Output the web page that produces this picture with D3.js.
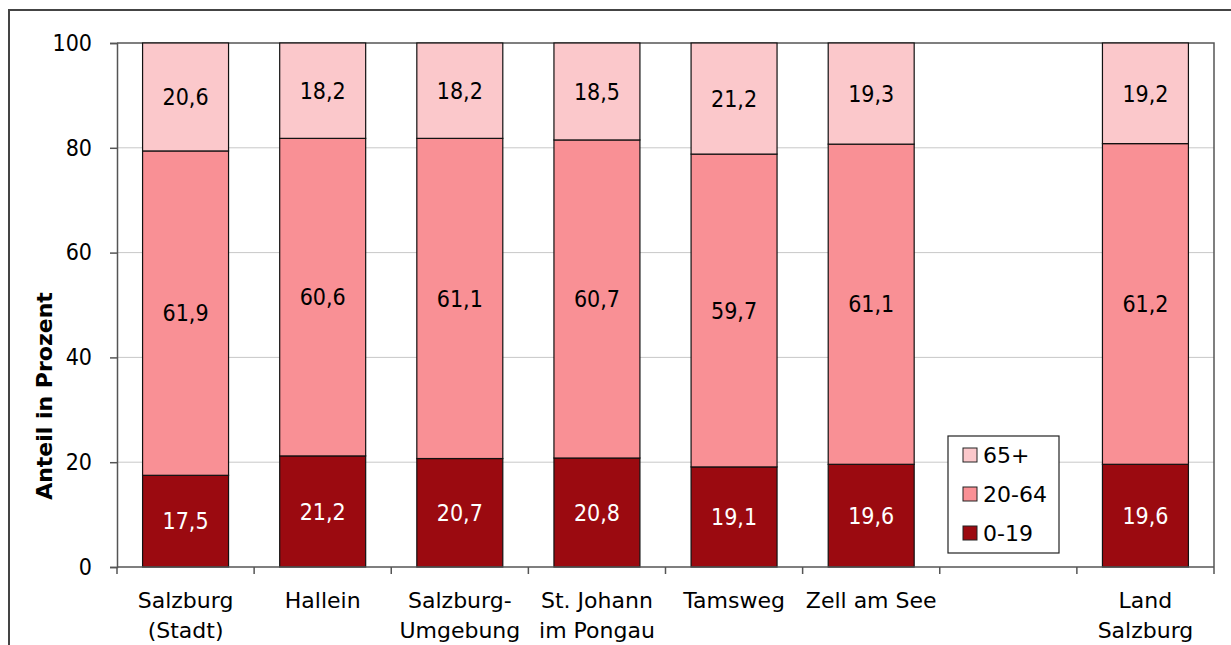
<!DOCTYPE html>
<html>
<head>
<meta charset="utf-8">
<script src="https://cdn.jsdelivr.net/npm/d3@7"></script>
<style>
  body { margin: 0; background: #fff; }
  svg { display: block; font-family: "DejaVu Sans", sans-serif; }
</style>
</head>
<body>
<div id="chart"></div>
<script>
// Altersstruktur nach Bezirken (Anteil in Prozent)
var categories = ['Salzburg\n(Stadt)', 'Hallein', 'Salzburg-\nUmgebung', 'St. Johann\nim Pongau',
                  'Tamsweg', 'Zell am See', '', 'Land\nSalzburg'];
var age0to19  = [17.5, 21.2, 20.7, 20.8, 19.1, 19.6, null, 19.6];
var age20to64 = [61.9, 60.6, 61.1, 60.7, 59.7, 61.1, null, 61.2];
var age65plus = [20.6, 18.2, 18.2, 18.5, 21.2, 19.3, null, 19.2];
var seriesNames = ['0-19', '20-64', '65+'];
var yTicks = [0, 20, 40, 60, 80, 100];

var width = 1231, height = 645;
var margin = {left: 117, top: 43, right: 17, bottom: 78};
var colors = {'0-19': '#9b0a10', '20-64': '#f99095', '65+': '#fbc8cb'};
var textColors = {'0-19': '#fff', '20-64': '#000', '65+': '#000'};
var numFont = '"DejaVu Sans Condensed", "DejaVu Sans", sans-serif';

var rows = categories.map(function (c, i) {
    return {cat: i, '0-19': age0to19[i], '20-64': age20to64[i], '65+': age65plus[i]};
});

var svg = d3.select('#chart').append('svg')
    .attr('width', width)
    .attr('height', height);

// outer frame
svg.append('rect')
    .attr('x', 9).attr('y', 10)
    .attr('width', 1300).attr('height', 700)
    .attr('fill', 'none')
    .attr('stroke', '#444')
    .attr('stroke-width', 2);

var x = d3.scaleBand()
    .domain(d3.range(categories.length))
    .range([margin.left, width - margin.right])
    .paddingInner(0.373)
    .paddingOuter(0.1865);

var y = d3.scaleLinear()
    .domain([0, 100])
    .range([height - margin.bottom, margin.top]);

// gridlines
svg.append('g')
    .selectAll('line')
    .data(yTicks.filter(function (t) { return t > 0 && t < 100; }))
    .enter().append('line')
    .attr('x1', margin.left).attr('x2', width - margin.right)
    .attr('y1', function (d) { return y(d); })
    .attr('y2', function (d) { return y(d); })
    .attr('stroke', '#c8c8c8')
    .attr('stroke-width', 1);

// plot border (top/right)
svg.append('path')
    .attr('d', 'M' + margin.left + ',' + y(100) + 'H' + (width - margin.right) + 'V' + y(0))
    .attr('fill', 'none')
    .attr('stroke', '#555')
    .attr('stroke-width', 1.5);

var stack = d3.stack().keys(seriesNames);
var layers = stack(rows.filter(function (r) { return r['0-19'] != null; }));

var groups = svg.append('g').selectAll('g')
    .data(layers)
    .enter().append('g')
    .attr('fill', function (d) { return colors[d.key]; });

groups.selectAll('rect')
    .data(function (d) { return d; })
    .enter().append('rect')
    .attr('x', function (d) { return x(d.data.cat); })
    .attr('y', function (d) { return y(d[1]); })
    .attr('width', x.bandwidth())
    .attr('height', function (d) { return y(d[0]) - y(d[1]); })
    .attr('stroke', '#111')
    .attr('stroke-width', 1.2);

// value labels
layers.forEach(function (layer) {
    svg.append('g').selectAll('text')
        .data(layer)
        .enter().append('text')
        .attr('x', function (d) { return x(d.data.cat) + x.bandwidth() / 2; })
        .attr('y', function (d) { return (y(d[0]) + y(d[1])) / 2; })
        .attr('dy', '0.36em')
        .attr('text-anchor', 'middle')
        .attr('font-family', numFont)
        .attr('font-size', 23)
        .attr('fill', textColors[layer.key])
        .text(function (d) { return String(d.data[layer.key]).replace('.', ','); });
});

// y axis
var yAxis = svg.append('g')
    .attr('transform', 'translate(' + margin.left + ',0)')
    .call(d3.axisLeft(y).tickValues(yTicks).tickSize(7).tickPadding(18));
yAxis.selectAll('text').attr('font-size', 23).attr('fill', '#000')
    .attr('font-family', numFont);
yAxis.selectAll('line, path').attr('stroke', '#555').attr('stroke-width', 1.5);

// x axis line and boundary ticks
var xAxisG = svg.append('g');
xAxisG.append('line')
    .attr('x1', margin.left).attr('x2', width - margin.right)
    .attr('y1', y(0)).attr('y2', y(0))
    .attr('stroke', '#555').attr('stroke-width', 1.5);
var step = x.step();
xAxisG.selectAll('line.tick')
    .data(d3.range(categories.length + 1))
    .enter().append('line')
    .attr('class', 'tick')
    .attr('x1', function (d) { return margin.left + d * step; })
    .attr('x2', function (d) { return margin.left + d * step; })
    .attr('y1', y(0)).attr('y2', y(0) + 7)
    .attr('stroke', '#555').attr('stroke-width', 1.5);

xAxisG.selectAll('text.cat')
    .data(categories)
    .enter().append('text')
    .attr('class', 'cat')
    .attr('text-anchor', 'middle')
    .attr('font-size', 22)
    .attr('transform', function (d, i) {
        return 'translate(' + (x(i) + x.bandwidth() / 2) + ',' + 608 + ')';
    })
    .each(function (d) {
        var t = d3.select(this);
        d.split('\n').forEach(function (line, k) {
            t.append('tspan').attr('x', 0).attr('y', k * 30).text(line);
        });
    });

// y axis title
svg.append('text')
    .attr('transform', 'translate(52,' + 396 + ') rotate(-90)')
    .attr('text-anchor', 'middle')
    .attr('font-size', 22)
    .attr('font-weight', 'bold')
    .text('Anteil in Prozent');

// legend
var legend = svg.append('g').attr('transform', 'translate(948,436)');
legend.append('rect')
    .attr('width', 111).attr('height', 117)
    .attr('fill', '#fff')
    .attr('stroke', '#222')
    .attr('stroke-width', 1.2);
var legendOrder = ['65+', '20-64', '0-19'];
legendOrder.forEach(function (k, i) {
    var g = legend.append('g').attr('transform', 'translate(15,' + (19 + i * 39) + ')');
    g.append('rect')
        .attr('x', 0).attr('y', -7)
        .attr('width', 14).attr('height', 14)
        .attr('fill', colors[k])
        .attr('stroke', '#222');
    g.append('text')
        .attr('x', 20).attr('dy', '0.36em')
        .attr('font-size', 22)
        .text(k);
});
</script>
</body>
</html>
